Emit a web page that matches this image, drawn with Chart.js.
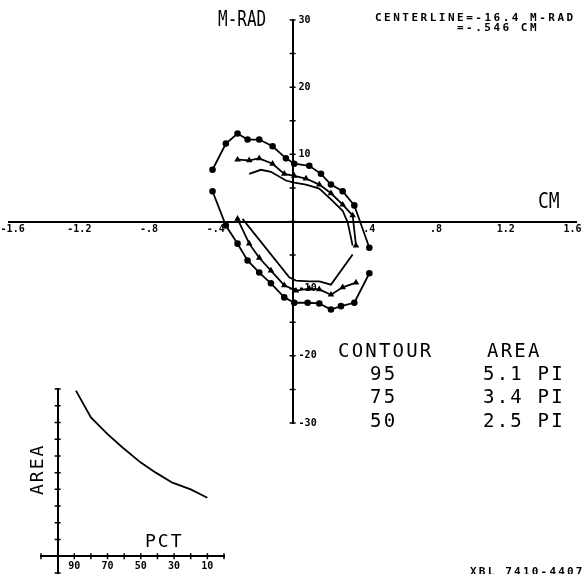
<!DOCTYPE html>
<html>
<head>
<meta charset="utf-8">
<script src="https://cdn.jsdelivr.net/npm/chart.js@4.4.1/dist/chart.umd.min.js"></script>
<style>
  html, body { margin: 0; padding: 0; background: #fff; }
  #wrap { position: relative; width: 582px; height: 574px; overflow: hidden; background: #fff; }
  #wrap canvas { position: absolute; }
  .t { position: absolute; font-family: "DejaVu Sans Mono", monospace; color: #000; line-height: 1; white-space: pre; }
  .big { font-size: 19px; letter-spacing: 2.2px; }
  .small { font-size: 11px; font-weight: bold; letter-spacing: 2.5px; }
</style>
</head>
<body>
<div id="wrap">
  <canvas id="main" width="582" height="574" style="left:0;top:0;width:582px;height:574px"></canvas>
  <canvas id="inset" width="240" height="200" style="left:0;top:374px;width:240px;height:200px"></canvas>

  <div class="t" style="left:218px;top:9px;font-size:16px;transform:scaleY(1.3);transform-origin:0 0">M-RAD</div>
  <div class="t" style="left:538px;top:191px;font-size:18px;transform:scaleY(1.15);transform-origin:0 0">CM</div>
  <div class="t small" style="left:375px;top:12px">CENTERLINE=-16.4 M-RAD</div>
  <div class="t small" style="left:457px;top:22px">=-.546 CM</div>

  <div class="t big" style="left:338px;top:341px">CONTOUR</div>
  <div class="t big" style="left:487px;top:341px">AREA</div>
  <div class="t big" style="left:370px;top:364px">95</div>
  <div class="t big" style="left:483px;top:364px">5.1 PI</div>
  <div class="t big" style="left:370px;top:387px">75</div>
  <div class="t big" style="left:483px;top:387px">3.4 PI</div>
  <div class="t big" style="left:370px;top:411px">50</div>
  <div class="t big" style="left:483px;top:411px">2.5 PI</div>

  <div class="t" style="left:145px;top:532px;font-size:18px;letter-spacing:2px">PCT</div>
  <div class="t" style="left:28px;top:495px;font-size:18px;letter-spacing:2px;transform:rotate(-90deg);transform-origin:0 0">AREA</div>

  <div class="t small" style="left:470px;top:566px;letter-spacing:2.2px">XBL 7410-4407</div>
</div>

<script>
// contour 95 (dots), upper and lower branch
const c95UpperX = [-0.48, -0.40, -0.33, -0.27, -0.20, -0.12, -0.04, 0.01, 0.10, 0.17, 0.23, 0.30, 0.37, 0.46];
const c95UpperY = [7.7, 11.6, 13.1, 12.2, 12.2, 11.2, 9.4, 8.6, 8.3, 7.1, 5.5, 4.5, 2.4, -3.9];
const c95LowerX = [-0.48, -0.40, -0.33, -0.27, -0.20, -0.13, -0.05, 0.01, 0.09, 0.16, 0.23, 0.29, 0.37, 0.46];
const c95LowerY = [4.5, -0.6, -3.3, -5.8, -7.6, -9.2, -11.3, -12.1, -12.1, -12.2, -13.1, -12.6, -12.1, -7.7];

// contour 75 (triangles)
const c75UpperX = [-0.33, -0.26, -0.20, -0.12, -0.05, 0.01, 0.08, 0.16, 0.23, 0.30, 0.36, 0.38];
const c75UpperY = [9.2, 9.1, 9.4, 8.6, 7.1, 6.8, 6.4, 5.5, 4.2, 2.5, 0.9, -3.6];
const c75LowerX = [-0.33, -0.26, -0.20, -0.13, -0.05, 0.02, 0.10, 0.16, 0.23, 0.30, 0.38];
const c75LowerY = [0.4, -3.3, -5.4, -7.3, -9.5, -10.3, -10.0, -10.1, -10.9, -9.8, -9.1];

// contour 50 (plain line)
const c50UpperX = [-0.26, -0.19, -0.13, -0.04, 0.01, 0.08, 0.16, 0.23, 0.30, 0.33, 0.36];
const c50UpperY = [7.1, 7.7, 7.4, 6.1, 5.8, 5.5, 4.9, 3.3, 1.6, -0.1, -3.6];
const c50LowerX = [-0.30, -0.02, 0.02, 0.10, 0.16, 0.23, 0.36];
const c50LowerY = [0.4, -8.3, -8.8, -8.9, -8.9, -9.4, -4.9];

// tick labels of the main plot
const xLabelValues = [-1.6, -1.2, -0.8, -0.4, 0.4, 0.8, 1.2, 1.6];
const xLabelText = ['-1.6', '-1.2', '-.8', '-.4', '.4', '.8', '1.2', '1.6'];
const yLabelValues = [30, 20, 10, -10, -20, -30];
const yLabelText = ['30', '20', '10', '-10', '-20', '-30'];

// inset: area against percent contour
const pct = [89, 80, 70, 61, 50, 41, 31, 20, 10];
const area = [9.9, 8.3, 7.3, 6.5, 5.6, 5.0, 4.4, 4.0, 3.5];
const pctLabels = [90, 70, 50, 30, 10];

const pts = (xs, ys) => xs.map((x, i) => ({x, y: ys[i]}));
const tickFont = {family: 'DejaVu Sans Mono', size: 10, weight: 'bold'};

const onStep = (v, step) => Math.abs(v / step - Math.round(v / step)) < 1e-6;

// "+" marks across each axis; the main plot also gets its labels here
// (negative x labels sit left of their tick, positive ones right, y labels right of the axis)
const crossTicks = {
  id: 'crossTicks',
  afterDraw(chart, args, opts) {
    const {ctx} = chart;
    const xs = chart.scales.x, ys = chart.scales.y;
    const x0 = xs.getPixelForValue(opts.yAxisAt);
    const y0 = ys.getPixelForValue(0);
    const s = opts.size || 3;
    ctx.save();
    ctx.strokeStyle = '#000';
    ctx.lineWidth = 1.5;
    ctx.beginPath();
    xs.ticks.forEach(t => {
      if (!onStep(t.value, opts.xStep)) return;
      const p = xs.getPixelForValue(t.value);
      ctx.moveTo(p, y0 - s); ctx.lineTo(p, y0 + s);
    });
    ys.ticks.forEach(t => {
      if (!onStep(t.value, opts.yStep)) return;
      const p = ys.getPixelForValue(t.value);
      ctx.moveTo(x0 - s, p); ctx.lineTo(x0 + s, p);
    });
    ctx.stroke();
    if (opts.labels) {
      ctx.fillStyle = '#000';
      ctx.font = 'bold 10px "DejaVu Sans Mono"';
      ctx.textBaseline = 'middle';
      ctx.textAlign = 'left';
      yLabelValues.forEach((v, i) => {
        ctx.fillText(yLabelText[i], x0 + 6, ys.getPixelForValue(v));
      });
      ctx.textBaseline = 'top';
      xLabelValues.forEach((v, i) => {
        const p = xs.getPixelForValue(v);
        ctx.textAlign = v < 0 ? 'right' : 'left';
        ctx.fillText(xLabelText[i], v < 0 ? p - 1 : p + 4, y0 + 3);
      });
    }
    ctx.restore();
  }
};

const lineStyle = {borderColor: '#000', backgroundColor: '#000', borderWidth: 1.8, showLine: true, tension: 0};

new Chart(document.getElementById('main'), {
  type: 'scatter',
  data: {
    datasets: [
      {...lineStyle, data: pts(c95UpperX, c95UpperY), pointRadius: 2.4, pointStyle: 'circle'},
      {...lineStyle, data: pts(c95LowerX, c95LowerY), pointRadius: 2.4, pointStyle: 'circle'},
      {...lineStyle, data: pts(c75UpperX, c75UpperY), pointRadius: 2, pointStyle: 'triangle'},
      {...lineStyle, data: pts(c75LowerX, c75LowerY), pointRadius: 2, pointStyle: 'triangle'},
      {...lineStyle, data: pts(c50UpperX, c50UpperY), pointRadius: 0},
      {...lineStyle, data: pts(c50LowerX, c50LowerY), pointRadius: 0}
    ]
  },
  options: {
    responsive: false,
    animation: false,
    layout: {padding: {left: 9, right: 2, top: 20, bottom: 151}},
    plugins: {legend: {display: false}, tooltip: {enabled: false},
      crossTicks: {yAxisAt: 0, size: 3, xStep: 0.2, yStep: 5, labels: true}},
    scales: {
      x: {
        type: 'linear', min: -1.7, max: 1.7, position: {y: 0},
        grid: {display: false},
        border: {display: true, color: '#000', width: 2},
        ticks: {stepSize: 0.2, display: false}
      },
      y: {
        type: 'linear', min: -30, max: 30, position: {x: 0},
        grid: {display: false},
        border: {display: true, color: '#000', width: 2},
        ticks: {stepSize: 5, display: false}
      }
    }
  },
  plugins: [crossTicks]
});

new Chart(document.getElementById('inset'), {
  type: 'scatter',
  data: {
    datasets: [{...lineStyle, data: pts(pct, area), pointRadius: 0}]
  },
  options: {
    responsive: false,
    animation: false,
    layout: {padding: {left: 41, right: 16, top: 15, bottom: 1}},
    plugins: {legend: {display: false}, tooltip: {enabled: false},
      crossTicks: {yAxisAt: 100, size: 3, xStep: 10, yStep: 1}},
    scales: {
      x: {
        type: 'linear', min: 0, max: 110, reverse: true, position: {y: 0},
        grid: {display: false, tickLength: 2},
        border: {display: true, color: '#000', width: 2},
        ticks: {stepSize: 10, autoSkip: false, maxRotation: 0, padding: 2, color: '#000', font: tickFont,
          callback: v => pctLabels.includes(v) ? String(v) : ''}
      },
      y: {
        type: 'linear', min: -1, max: 10, position: {x: 100},
        grid: {display: false},
        border: {display: true, color: '#000', width: 2},
        ticks: {stepSize: 1, display: false}
      }
    }
  },
  plugins: [crossTicks]
});
</script>
</body>
</html>
